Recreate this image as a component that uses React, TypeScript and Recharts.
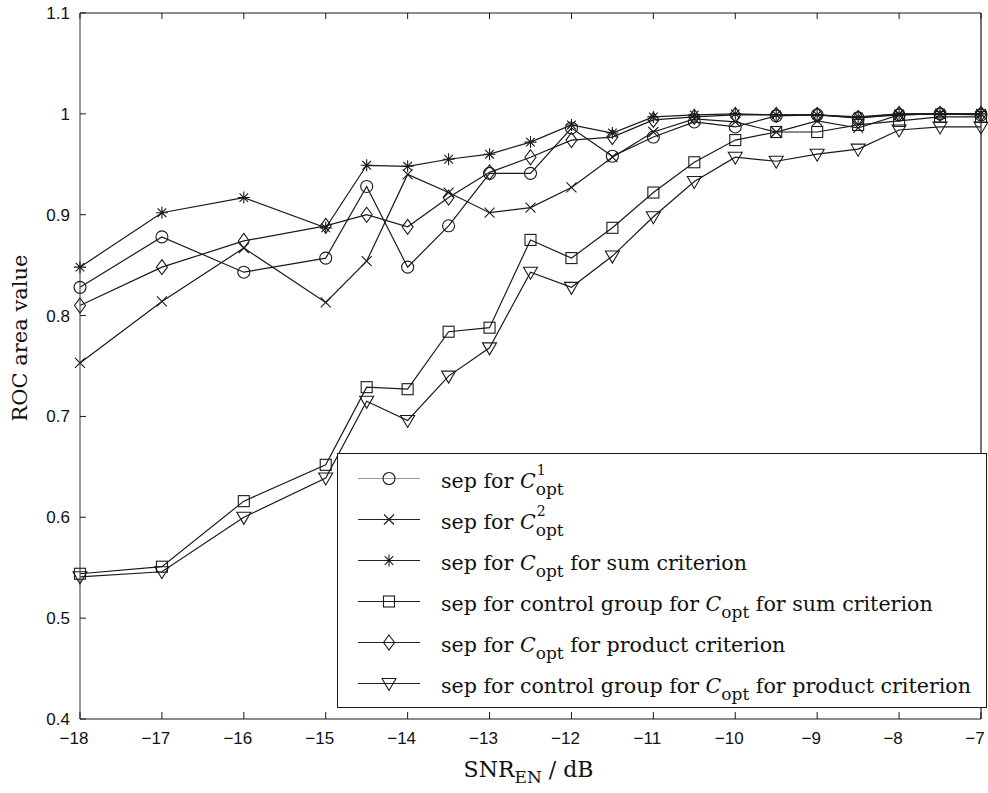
import React from 'react';
import { LineChart, Line, XAxis, YAxis, Legend } from 'recharts';

// SNR_EN values in dB (x positions of the markers)
const snr = [-18, -17, -16, -15, -14.5, -14, -13.5, -13, -12.5, -12, -11.5, -11, -10.5, -10, -9.5, -9, -8.5, -8, -7.5, -7];

// ROC area values
const sepC1 = [0.828, 0.878, 0.843, 0.857, 0.928, 0.848, 0.889, 0.941, 0.941, 0.986, 0.958, 0.977, 0.992, 0.987, 0.998, 0.999, 0.996, 0.999, 1.0, 0.999];
const sepC2 = [0.753, 0.814, 0.867, 0.813, 0.854, 0.94, 0.922, 0.902, 0.907, 0.927, 0.957, 0.982, 0.995, 0.992, 0.982, 0.993, 0.986, 0.999, 1.0, 1.0];
const sepSum = [0.848, 0.902, 0.917, 0.887, 0.949, 0.948, 0.955, 0.96, 0.972, 0.989, 0.981, 0.997, 0.999, 1.0, 0.999, 0.999, 0.997, 1.0, 1.0, 1.0];
const ctrlSum = [0.544, 0.551, 0.616, 0.652, 0.729, 0.727, 0.784, 0.788, 0.875, 0.857, 0.887, 0.922, 0.952, 0.974, 0.982, 0.982, 0.989, 0.993, 0.997, 0.997];
const sepProd = [0.81, 0.848, 0.874, 0.889, 0.9, 0.888, 0.917, 0.942, 0.957, 0.974, 0.977, 0.994, 0.997, 0.999, 0.999, 0.999, 0.996, 1.0, 1.0, 1.0];
const ctrlProd = [0.541, 0.546, 0.6, 0.639, 0.715, 0.696, 0.74, 0.768, 0.843, 0.828, 0.859, 0.898, 0.933, 0.957, 0.953, 0.96, 0.965, 0.984, 0.987, 0.987];

const xTicks = [-18, -17, -16, -15, -14, -13, -12, -11, -10, -9, -8, -7];
const yTicks = [0.4, 0.5, 0.6, 0.7, 0.8, 0.9, 1, 1.1];

type Shape = 'circle' | 'cross' | 'star' | 'square' | 'diamond' | 'triangle';

// series: key, marker, legend text (prefix / superscript on C / suffix)
const seriesInfo: { key: string; shape: Shape; sup: string; rest: string; legendLine: string }[] = [
  { key: 'c1', shape: 'circle', sup: '1', rest: '', legendLine: '#9a9a9a' },
  { key: 'c2', shape: 'cross', sup: '2', rest: '', legendLine: '#222' },
  { key: 'sum', shape: 'star', sup: '', rest: ' for sum criterion', legendLine: '#222' },
  { key: 'ctrlSum', shape: 'square', sup: '', rest: ' for sum criterion', legendLine: '#222' },
  { key: 'prod', shape: 'diamond', sup: '', rest: ' for product criterion', legendLine: '#222' },
  { key: 'ctrlProd', shape: 'triangle', sup: '', rest: ' for product criterion', legendLine: '#222' },
];
const legendPrefix = ['sep for ', 'sep for ', 'sep for ', 'sep for control group for ', 'sep for ', 'sep for control group for '];

const data = snr.map((x, i) => ({
  snr: x,
  c1: sepC1[i],
  c2: sepC2[i],
  sum: sepSum[i],
  ctrlSum: ctrlSum[i],
  prod: sepProd[i],
  ctrlProd: ctrlProd[i],
}));

const INK = '#1a1a1a';
const SANS = '"Liberation Sans", Arial, Helvetica, sans-serif';
const SERIF = '"DejaVu Serif", "Liberation Serif", serif';

function Marker({ shape, cx, cy }: { shape: Shape; cx: number; cy: number }) {
  const s = { stroke: INK, strokeWidth: 1.1, fill: 'none' };
  switch (shape) {
    case 'circle':
      return <circle cx={cx} cy={cy} r={6} {...s} />;
    case 'square':
      return <rect x={cx - 5.5} y={cy - 5.5} width={11} height={11} {...s} />;
    case 'diamond':
      return <polygon points={`${cx},${cy - 7.5} ${cx + 5.5},${cy} ${cx},${cy + 7.5} ${cx - 5.5},${cy}`} {...s} />;
    case 'triangle':
      return <polygon points={`${cx - 7},${cy - 5} ${cx + 7},${cy - 5} ${cx},${cy + 7}`} {...s} />;
    case 'cross':
      return <path d={`M${cx - 5},${cy - 5}L${cx + 5},${cy + 5}M${cx - 5},${cy + 5}L${cx + 5},${cy - 5}`} {...s} />;
    case 'star':
      return (
        <path
          d={`M${cx - 6},${cy}L${cx + 6},${cy}M${cx},${cy - 6}L${cx},${cy + 6}M${cx - 4.3},${cy - 4.3}L${cx + 4.3},${cy + 4.3}M${cx - 4.3},${cy + 4.3}L${cx + 4.3},${cy - 4.3}`}
          {...s}
        />
      );
  }
  return null;
}

const fmt = (v: number) => (v < 0 ? `\u2212${Math.abs(v)}` : `${v}`);

function BottomTick({ x, y, payload }: any) {
  const v = payload.value as number;
  return (
    <g>
      <line x1={x} y1={y} x2={x} y2={y - 7} stroke={INK} />
      <text x={x} y={y + 25} dx={v < 0 ? -6 : 0} textAnchor="middle" fontFamily={SANS} fontSize={17} fill="#111">
        {fmt(v)}
      </text>
    </g>
  );
}

function TopTick({ x, y }: any) {
  return <line x1={x} y1={y} x2={x} y2={y + 6} stroke={INK} />;
}

function LeftTick({ x, y, payload }: any) {
  return (
    <g>
      <line x1={x} y1={y} x2={x + 6} y2={y} stroke={INK} />
      <text x={x - 10} y={y + 6} textAnchor="end" fontFamily={SANS} fontSize={17} fill="#111">
        {payload.value}
      </text>
    </g>
  );
}

function RightTick({ x, y }: any) {
  return <line x1={x} y1={y} x2={x - 6} y2={y} stroke={INK} />;
}

function XLabel({ viewBox }: any) {
  const { x, y, width } = viewBox;
  return (
    <text x={x + width / 2 - 2} y={y + 58} textAnchor="middle" fontFamily={SERIF} fontSize={22} fill="#111">
      SNR
      <tspan dy={6} fontSize={17}>EN</tspan>
      <tspan dy={-6}> / dB</tspan>
    </text>
  );
}

function YLabel({ viewBox }: any) {
  const { x, y } = viewBox;
  const cx = x + 27;
  const cy = y + 325;
  return (
    <text x={cx} y={cy} transform={`rotate(-90 ${cx} ${cy})`} textAnchor="middle" fontFamily={SERIF} fontSize={21} fill="#111">
      ROC area value
    </text>
  );
}

function Copt({ sup }: { sup: string }) {
  return (
    <span>
      <i>C</i>
      <span style={{ position: 'relative', display: 'inline-block' }}>
        {sup && <span style={{ position: 'absolute', left: 1, top: -7, fontSize: 14 }}>{sup}</span>}
        <span style={{ position: 'relative', top: 7, fontSize: 17 }}>opt</span>
      </span>
    </span>
  );
}

function LegendBox() {
  return (
    <div
      style={{
        width: 650,
        height: 255,
        boxSizing: 'border-box',
        border: `1.3px solid ${INK}`,
        background: '#fff',
        paddingTop: 4,
        fontFamily: SERIF,
        fontSize: 20.6,
        color: '#111',
      }}
    >
      {seriesInfo.map((s, i) => (
        <div key={s.key} style={{ height: 41, display: 'flex', alignItems: 'center', whiteSpace: 'nowrap' }}>
          <svg width={103} height={41} style={{ flex: 'none' }}>
            <line x1={20} y1={20.5} x2={82} y2={20.5} stroke={s.legendLine} strokeWidth={1.2} />
            <Marker shape={s.shape} cx={51} cy={20.5} />
          </svg>
          <span style={{ position: 'relative', top: 2 }}>
            {legendPrefix[i]}
            <Copt sup={s.sup} />
            {s.rest}
          </span>
        </div>
      ))}
    </div>
  );
}

export default function App() {
  return (
    <div style={{ position: 'absolute', left: 0, top: 0, width: 988, height: 793, background: '#fff' }}>
      <LineChart width={988} height={793} data={data} margin={{ top: 12, right: 0, bottom: 0, left: 0 }}>
        <XAxis
          dataKey="snr"
          type="number"
          domain={[-18, -7]}
          ticks={xTicks}
          height={74}
          tickSize={0}
          tickMargin={0}
          tickLine={false}
          tick={<BottomTick />}
          axisLine={{ stroke: INK, strokeWidth: 1.2 }}
          label={{ content: <XLabel /> }}
        />
        <XAxis
          xAxisId="top"
          orientation="top"
          dataKey="snr"
          type="number"
          domain={[-18, -7]}
          ticks={xTicks}
          height={1}
          tickSize={0}
          tickMargin={0}
          tickLine={false}
          tick={<TopTick />}
          axisLine={{ stroke: INK, strokeWidth: 1.2 }}
        />
        <YAxis
          type="number"
          domain={[0.4, 1.1]}
          ticks={yTicks}
          width={80}
          tickSize={0}
          tickMargin={0}
          tickLine={false}
          tick={<LeftTick />}
          axisLine={{ stroke: '#555', strokeWidth: 1.2 }}
          label={{ content: <YLabel /> }}
        />
        <YAxis
          yAxisId="right"
          orientation="right"
          type="number"
          domain={[0.4, 1.1]}
          ticks={yTicks}
          width={7}
          tickSize={0}
          tickMargin={0}
          tickLine={false}
          tick={<RightTick />}
          axisLine={{ stroke: INK, strokeWidth: 1.2 }}
        />
        {seriesInfo.map((s) => (
          <Line
            key={s.key}
            dataKey={s.key}
            type="linear"
            stroke={INK}
            strokeWidth={1.2}
            isAnimationActive={false}
            dot={(p: any) => <Marker key={`${s.key}-${p.index}`} shape={s.shape} cx={p.cx} cy={p.cy} />}
            activeDot={false}
          />
        ))}
        <Legend
          layout="vertical"
          align="center"
          verticalAlign="middle"
          wrapperStyle={{ left: 337, top: 453, width: 650, height: 255 }}
          content={() => <LegendBox />}
        />
      </LineChart>
    </div>
  );
}
